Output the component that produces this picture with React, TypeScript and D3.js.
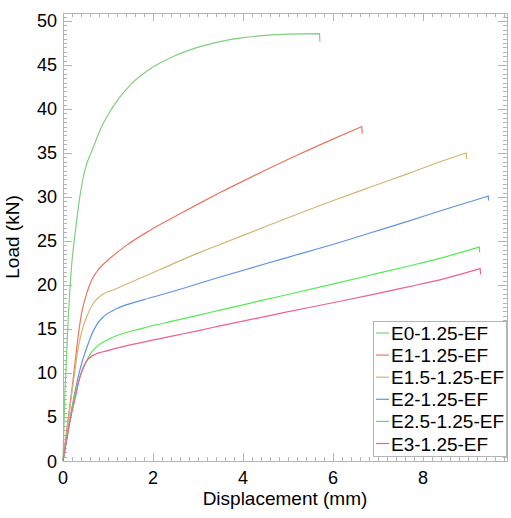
import React from "react";
import * as d3 from "d3";

const seriesNames = ["E0-1.25-EF", "E1-1.25-EF", "E1.5-1.25-EF", "E2-1.25-EF", "E2.5-1.25-EF", "E3-1.25-EF"];
const seriesColors = ["#7fd07f", "#e8775f", "#d2b56e", "#6092ea", "#52ea52", "#f0608e"];

const e0: [number, number][] = [[0,0],[0.04,7.3],[0.07,10.7],[0.10,14.5],[0.14,18.3],[0.19,22.1],[0.27,25.9],[0.31,27.6],[0.37,29.9],[0.43,31.7],[0.49,33.1],[0.67,35.6],[0.86,38.0],[1.08,40.0],[1.49,42.7],[2.01,44.8],[2.45,45.95],[2.90,46.85],[3.49,47.65],[4.0,48.1],[4.5,48.35],[5.0,48.5],[5.70,48.55],[5.71,47.6]];
const e1: [number, number][] = [[0,0],[0.1,4.2],[0.2,8.2],[0.27,11.3],[0.34,14.3],[0.41,16.7],[0.53,19.1],[0.64,20.6],[0.75,21.5],[1.04,23.0],[1.41,24.5],[1.93,26.2],[2.53,27.9],[3.04,29.3],[3.49,30.5],[4.16,32.2],[5.27,34.9],[6.01,36.6],[6.64,38.0],[6.65,37.2]];
const e15: [number, number][] = [[0,0],[0.1,3.8],[0.19,7.5],[0.27,10.5],[0.34,12.9],[0.45,15.3],[0.56,16.8],[0.67,17.9],[0.82,18.7],[1.19,19.6],[1.78,20.9],[2.53,22.6],[3.04,23.7],[3.49,24.6],[4.53,26.7],[6.01,29.6],[6.82,31.1],[7.64,32.6],[8.38,34.0],[8.96,35.0],[8.97,34.3]];
const e2: [number, number][] = [[0,0],[0.12,3.7],[0.24,7.2],[0.33,9.4],[0.41,11.0],[0.53,12.9],[0.64,14.4],[0.75,15.5],[0.90,16.4],[1.19,17.3],[1.78,18.3],[2.53,19.4],[3.04,20.2],[3.49,20.9],[4.90,23.0],[6.16,24.85],[6.82,25.9],[7.64,27.2],[8.5,28.6],[9.45,30.1],[9.46,29.6]];
const e25: [number, number][] = [[0,0],[0.12,3.5],[0.22,6.4],[0.29,8.0],[0.38,9.6],[0.49,11.0],[0.60,12.1],[0.75,13.0],[1.04,13.9],[1.78,15.1],[2.53,16.0],[3.04,16.6],[3.49,17.15],[4.90,18.8],[6.16,20.3],[6.82,21.1],[7.64,22.1],[8.5,23.2],[9.25,24.3],[9.26,23.7]];
const e3: [number, number][] = [[0,0],[0.1,3.0],[0.2,5.6],[0.27,7.1],[0.34,8.8],[0.41,10.1],[0.53,11.4],[0.67,12.0],[1.04,12.6],[1.78,13.5],[2.53,14.3],[3.04,14.85],[3.49,15.35],[4.90,16.85],[6.16,18.15],[6.82,18.85],[7.64,19.75],[8.5,20.75],[9.27,21.85],[9.28,21.2]];
const seriesData = [e0, e1, e15, e2, e25, e3];

const xTicks = [0, 2, 4, 6, 8];
const yTicks = [0, 5, 10, 15, 20, 25, 30, 35, 40, 45, 50];
const xLabel = "Displacement (mm)";
const yLabel = "Load (kN)";

export default function App() {
  const W = 511, H = 518;
  const left = 63, right = 507, top = 13, bottom = 461;
  const x = d3.scaleLinear().domain([0, 9.867]).range([left, right]);
  const y = d3.scaleLinear().domain([0, 50.9]).range([bottom, top]);
  const line = d3.line<[number, number]>().x(d => x(d[0])).y(d => y(d[1])).curve(d3.curveMonotoneX);
  const font = "'Liberation Sans', Arial, Helvetica, sans-serif";
  const frame = "#b4b4b4";

  const xMinor = d3.range(0, 9.87, 0.2);
  const yMinor = d3.range(0, 50.9, 0.5);

  const legX = 373, legY = 321, legW = 133, legH = 135, rowH = 22.1;

  const pathFor = (d: [number, number][]) => {
    const last = d[d.length - 1];
    return (line(d.slice(0, -1)) || "") + `L${x(last[0])},${y(last[1])}`;
  };

  return (
    <svg width={W} height={H} style={{ position: "absolute", left: 0, top: 0, background: "#fff" }}>
      <rect x={0} y={0} width={W} height={H} fill="#fff" />
      <g stroke={frame} strokeWidth={1} shapeRendering="crispEdges">
        {xMinor.map((v, i) => {
          const major = Math.abs(v / 2 - Math.round(v / 2)) < 1e-6;
          const len = major ? 8 : 4;
          const px = Math.round(x(v)) + 0.5;
          return (
            <g key={"xm" + i}>
              <line x1={px} x2={px} y1={bottom} y2={bottom - len} />
              <line x1={px} x2={px} y1={top} y2={top + len} />
            </g>
          );
        })}
        {yMinor.map((v, i) => {
          const major = Math.abs(v / 5 - Math.round(v / 5)) < 1e-6;
          const len = major ? 9 : 4;
          const py = Math.round(y(v)) + 0.5;
          return (
            <g key={"ym" + i}>
              <line x1={left} x2={left + len} y1={py} y2={py} />
              <line x1={right} x2={right - len} y1={py} y2={py} />
            </g>
          );
        })}
        <rect x={left + 0.5} y={top + 0.5} width={right - left} height={bottom - top} fill="none" />
      </g>
      <g fill="none" strokeWidth={1.2}>
        {seriesData.map((d, i) => (
          <path key={i} d={pathFor(d)} stroke={seriesColors[i]} />
        ))}
      </g>
      <g fontFamily={font} fontSize={18} fill="#000">
        {xTicks.map(v => (
          <text key={"xt" + v} x={x(v)} y={484} textAnchor="middle">{v}</text>
        ))}
        {yTicks.map(v => (
          <text key={"yt" + v} x={57} y={y(v) + 6.5} textAnchor="end">{v}</text>
        ))}
      </g>
      <text x={(left + right) / 2} y={505} textAnchor="middle" fontFamily={font} fontSize={19}>{xLabel}</text>
      <text transform={`translate(19,${(top + bottom) / 2}) rotate(-90)`} textAnchor="middle" fontFamily={font} fontSize={19}>{yLabel}</text>
      <g>
        <rect x={legX + 0.5} y={legY + 0.5} width={legW} height={legH} fill="#fff" stroke={frame} shapeRendering="crispEdges" />
        {seriesNames.map((n, i) => {
          const cy = legY + 12 + i * rowH;
          return (
            <g key={n}>
              <line x1={legX + 3} x2={legX + 16} y1={cy} y2={cy} stroke={seriesColors[i]} strokeWidth={1.2} />
              <text x={legX + 18} y={cy + 7} fontFamily={font} fontSize={19}>{n}</text>
            </g>
          );
        })}
      </g>
    </svg>
  );
}
